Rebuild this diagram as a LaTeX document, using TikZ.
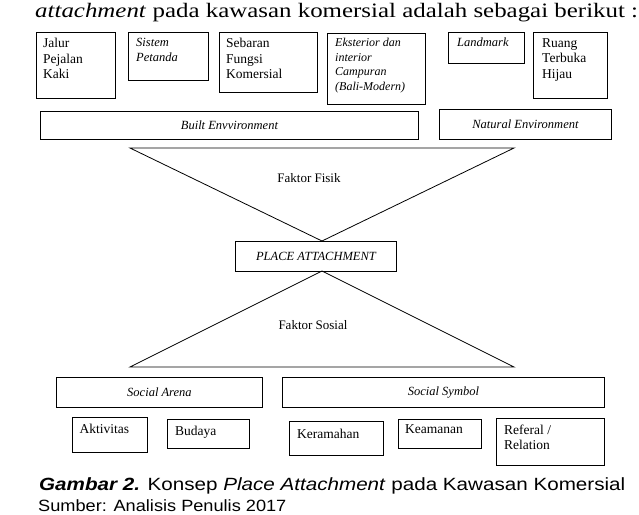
\documentclass[tikz,border=0pt]{standalone}
\usepackage{fontspec}
\usepackage{graphicx}
\setmainfont{Liberation Serif}
\newfontfamily\capfont{Liberation Sans}
\usetikzlibrary{positioning, calc}

\begin{document}
\begin{tikzpicture}[
    x=1pt, y=-1pt,
    box/.style 2 args={draw, line width=0.9pt, inner sep=0pt, anchor=north west, minimum width=#1pt, minimum height=#2pt},
    boxtxt/.style={inner sep=0pt, anchor=north west, align=left, font=\fontsize{13.5}{15.5}\selectfont},
    envtxt/.style={font=\fontsize{12.5}{14}\selectfont\itshape},
    factor/.style={inner sep=0pt, font=\fontsize{13}{15}\selectfont},
    tri/.style={line width=0.8pt}
]
    \useasboundingbox (0,0) rectangle (639,514);

    % Lead-in line
    \node[anchor=base west, inner sep=0pt, font=\fontsize{20.5}{22}\selectfont] (intro) at (35,17.8) {\scalebox{1.215}[1]{\textit{attachment} pada kawasan komersial adalah sebagai berikut :}};

    % Physical elements
    \node[box={79}{66}] (jalur) at (36,32) {};
    \node[boxtxt] (jalurt) at ([shift={(7,6)}]jalur.north west) {Jalur\\Pejalan\\Kaki};
    \node[box={80}{48}] (sistem) at (128,32) {};
    \node[boxtxt, font=\fontsize{12.5}{15}\selectfont\itshape] (sistemt) at ([shift={(8,6)}]sistem.north west) {Sistem\\Petanda};
    \node[box={98}{60}] (sebaran) at (219,32) {};
    \node[boxtxt] (sebarant) at ([shift={(7,6)}]sebaran.north west) {Sebaran\\Fungsi\\Komersial};
    \node[box={98}{71}] (ekst) at (327,33) {};
    \node[boxtxt, font=\fontsize{12}{14.5}\selectfont\itshape] (ekstt) at ([shift={(8,5)}]ekst.north west) {Eksterior dan\\interior\\Campuran\\(Bali-Modern)};
    \node[box={76}{31}] (landmark) at (448,32) {};
    \node[boxtxt, font=\fontsize{12.5}{15}\selectfont\itshape] (landmarkt) at ([shift={(9,6)}]landmark.north west) {Landmark};
    \node[box={74}{66}] (ruang) at (533,32) {};
    \node[boxtxt] (ruangt) at ([shift={(9,6)}]ruang.north west) {Ruang\\Terbuka\\Hijau};

    % Environments
    \node[box={378}{28}, envtxt] (built) at (40,111) {Built Envvironment};
    \node[box={172}{30}, envtxt] (natural) at (439,109) {Natural Environment};

    % Physical factor
    \coordinate (fisl) at (130,148);
    \coordinate (fisr) at (514,148);
    \coordinate (fisapex) at (322,241);
    \draw[tri] (fisl) -- (fisr) -- (fisapex) -- cycle;
    \node[factor] (fisik) at (309,178) {Faktor Fisik};

    % Place attachment
    \node[box={161}{30}, envtxt] (pa) at (235,241) {PLACE ATTACHMENT};

    % Social factor
    \coordinate (sosapex) at (322,271);
    \coordinate (sosl) at (130,367);
    \coordinate (sosr) at (514,367);
    \draw[tri] (sosapex) -- (sosl) -- (sosr) -- cycle;
    \node[factor] (sosial) at (313,325) {Faktor Sosial};

    \node[box={206}{30}, envtxt] (arena) at (56,377) {Social Arena};
    \node[box={322}{30}, envtxt] (symbol) at (282,377) {Social Symbol};

    % Social elements
    \node[box={75}{35}] (aktivitas) at (72,417) {};
    \node[boxtxt] (aktivitast) at ([shift={(7.5,6.5)}]aktivitas.north west) {Aktivitas};
    \node[box={82}{29}] (budaya) at (167,419) {};
    \node[boxtxt] (budayat) at ([shift={(8,6.5)}]budaya.north west) {Budaya};
    \node[box={94}{34}] (keramahan) at (289,421) {};
    \node[boxtxt] (keramahant) at ([shift={(8,7.5)}]keramahan.north west) {Keramahan};
    \node[box={83}{29}] (keamanan) at (398,419) {};
    \node[boxtxt] (keamanant) at ([shift={(7,5.5)}]keamanan.north west) {Keamanan};
    \node[box={108}{47}] (referal) at (496,418) {};
    \node[boxtxt] (referalt) at ([shift={(8,6.5)}]referal.north west) {Referal /\\Relation};

    % Caption
    \node[anchor=base west, inner sep=0pt, font=\capfont\fontsize{17.7}{19}\selectfont] (caption) at (39,490) {\scalebox{1.165}[1]{\textbf{\textit{Gambar 2.}} Konsep \textit{Place Attachment} pada Kawasan Komersial}};
    \node[anchor=base west, inner sep=0pt, font=\capfont\fontsize{16.3}{18}\selectfont] (source) at (38,511.3) {\scalebox{1.115}[1]{Sumber: Analisis Penulis 2017}};
\end{tikzpicture}
\end{document}
